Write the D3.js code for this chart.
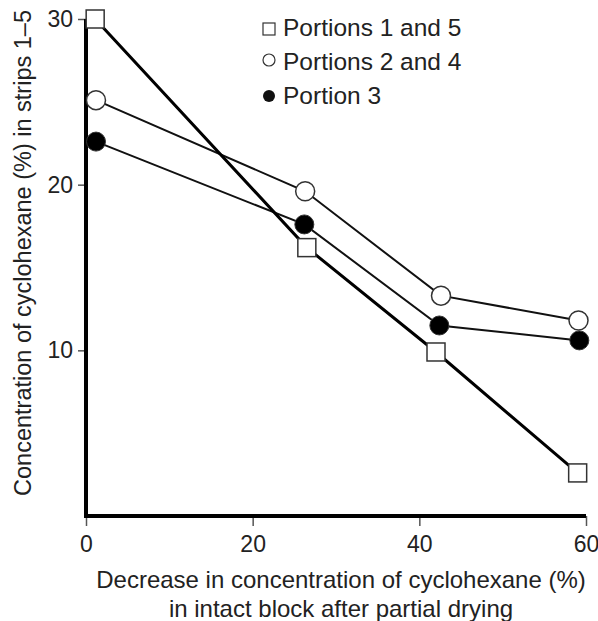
<!DOCTYPE html>
<html>
<head>
<meta charset="utf-8">
<script src="https://cdn.jsdelivr.net/npm/d3@7"></script>
<style>
  body { margin: 0; background: #fff; }
  text { font-family: "Liberation Sans", Arial, sans-serif; fill: #222; }
</style>
</head>
<body>
<div id="chart-area"></div>
<script>
var canvasWidth = 598
var canvasHeight = 621
var margin = {top: 19, bottom: 105, left: 86, right: 12}
var chartWidth = canvasWidth - margin.left - margin.right
var chartHeight = canvasHeight - margin.top - margin.bottom

// data
var xTicks = [0, 20, 40, 60]
var yTicks = [10, 20, 30]
var portions15X = [1.1, 26.5, 42.0, 59.0]
var portions15Y = [30.0, 16.2, 9.9, 2.6]
var portions24X = [1.2, 26.3, 42.6, 59.1]
var portions24Y = [25.1, 19.6, 13.3, 11.8]
var portion3X = [1.2, 26.2, 42.4, 59.2]
var portion3Y = [22.6, 17.6, 11.5, 10.6]
var legendLabels = ["Portions 1 and 5", "Portions 2 and 4", "Portion 3"]

var svg = d3.select("#chart-area")
  .append("svg")
  .attr("width", canvasWidth)
  .attr("height", canvasHeight)

var x = d3.scaleLinear().domain([0, 60]).range([0, chartWidth])
var y = d3.scaleLinear().domain([0, 30]).range([chartHeight, 0])

var g = svg.append("g")
  .attr("transform", "translate(" + margin.left + "," + margin.top + ")")

// axes
var xAxis = g.append("g")
  .attr("transform", "translate(0," + chartHeight + ")")
  .call(d3.axisBottom(x).tickValues(xTicks).tickSize(10).tickPadding(10))
var yAxis = g.append("g")
  .call(d3.axisLeft(y).tickValues(yTicks).tickSize(8).tickPadding(5))

xAxis.select(".domain").remove()
yAxis.select(".domain").remove()
g.selectAll(".tick line").attr("stroke", "#555").attr("stroke-width", 1.5)
g.selectAll(".tick text")
  .attr("font-size", "23px")
  .attr("fill", "#222")
  .style("font-family", "'Liberation Sans', Arial, sans-serif")

g.append("line")
  .attr("x1", 0).attr("x2", chartWidth)
  .attr("y1", chartHeight).attr("y2", chartHeight)
  .attr("stroke", "#000").attr("stroke-width", 4)
g.append("line")
  .attr("x1", 0).attr("x2", 0)
  .attr("y1", chartHeight + 2).attr("y2", y(30))
  .attr("stroke", "#000").attr("stroke-width", 4)

var line = d3.line()
  .x(function(d) { return x(d[0]) })
  .y(function(d) { return y(d[1]) })

var sq = d3.zip(portions15X, portions15Y)
var oc = d3.zip(portions24X, portions24Y)
var fc = d3.zip(portion3X, portion3Y)

g.append("path").datum(fc).attr("d", line)
  .attr("fill", "none").attr("stroke", "#111").attr("stroke-width", 2)
g.append("path").datum(oc).attr("d", line)
  .attr("fill", "none").attr("stroke", "#111").attr("stroke-width", 2)
g.append("path").datum(sq).attr("d", line)
  .attr("fill", "none").attr("stroke", "#000").attr("stroke-width", 3)

g.selectAll(".pt3").data(fc).enter().append("circle")
  .attr("cx", function(d) { return x(d[0]) })
  .attr("cy", function(d) { return y(d[1]) })
  .attr("r", 9.5)
  .attr("fill", "#000")
  .attr("stroke", "#333").attr("stroke-width", 1)

g.selectAll(".pt24").data(oc).enter().append("circle")
  .attr("cx", function(d) { return x(d[0]) })
  .attr("cy", function(d) { return y(d[1]) })
  .attr("r", 9.5)
  .attr("fill", "#fff")
  .attr("stroke", "#333").attr("stroke-width", 1.5)

g.selectAll(".pt15").data(sq).enter().append("rect")
  .attr("x", function(d) { return x(d[0]) - 9 })
  .attr("y", function(d) { return y(d[1]) - 9 })
  .attr("width", 18).attr("height", 18)
  .attr("fill", "#fff")
  .attr("stroke", "#333").attr("stroke-width", 1.5)

// legend
var legend = svg.append("g").attr("transform", "translate(263,0)")
var rowY = [28, 62, 96]
legend.append("rect")
  .attr("x", 0).attr("y", rowY[0] - 5)
  .attr("width", 12).attr("height", 12)
  .attr("fill", "#fff").attr("stroke", "#333").attr("stroke-width", 1.2)
legend.append("circle")
  .attr("cx", 6).attr("cy", rowY[1] - 2).attr("r", 6)
  .attr("fill", "#fff").attr("stroke", "#333").attr("stroke-width", 1.2)
legend.append("circle")
  .attr("cx", 6).attr("cy", rowY[2]).attr("r", 6)
  .attr("fill", "#111")
legend.selectAll(".lab").data(legendLabels).enter().append("text")
  .attr("x", 20)
  .attr("y", function(d, i) { return rowY[i] + 8 })
  .attr("font-size", "24.5px")
  .text(function(d) { return d })

// axis titles
svg.append("text")
  .attr("x", 341).attr("y", 588)
  .attr("text-anchor", "middle")
  .attr("font-size", "24px")
  .text("Decrease in concentration of cyclohexane (%)")
svg.append("text")
  .attr("x", 341).attr("y", 617)
  .attr("text-anchor", "middle")
  .attr("font-size", "24px")
  .text("in intact block after partial drying")

svg.append("text")
  .attr("transform", "translate(31,253) rotate(-90)")
  .attr("text-anchor", "middle")
  .attr("font-size", "23.5px")
  .text("Concentration of cyclohexane (%) in strips 1\u20135")
</script>
</body>
</html>
